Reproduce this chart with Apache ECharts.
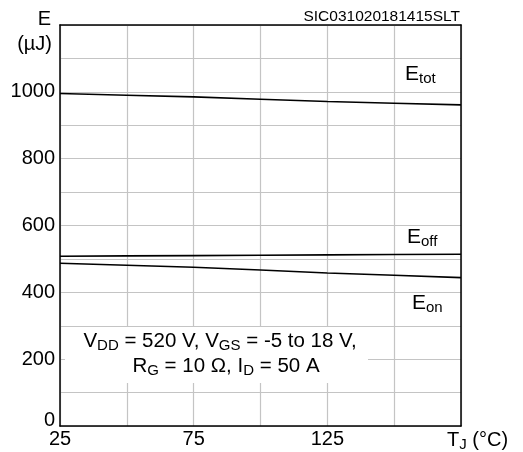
<!DOCTYPE html>
<html><head><meta charset="utf-8">
<script src="https://cdn.jsdelivr.net/npm/echarts@6/dist/echarts.min.js"></script>
<style>html,body{margin:0;padding:0;background:#fff}#c{width:523px;height:452px}</style>
</head><body><div id="c"></div>
<script>
const temps = [25, 50, 75, 100, 125, 150, 175];
const eTot = [995, 990, 985, 978, 971, 966, 961];
const eOff = [508, 509, 510, 511, 512, 513, 514];
const eOn  = [487, 481, 475, 467, 458, 451, 444];
const xTickLabels = [25, 75, 125];
const yTickLabels = [0, 200, 400, 600, 800, 1000];

const FONT = 'Liberation Sans, Arial, sans-serif';
const chart = echarts.init(document.getElementById('c'), null, {renderer: 'canvas'});
const pairs = arr => temps.map((t, i) => [t, arr[i]]);
const subRich = {
  s: {fontSize: 15, fontFamily: FONT, color: '#000', verticalAlign: 'bottom', padding: [9, 0, 0, 0]}
};
const lineSeries = arr => ({
  type: 'line', data: pairs(arr), showSymbol: false, smooth: false,
  xAxisIndex: 0, yAxisIndex: 0,
  lineStyle: {color: '#000', width: 1.6}, z: 5, silent: true
});
const frameAxis = {
  z: 8,
  axisLine: {show: true, onZero: false, lineStyle: {color: '#000', width: 1.5}},
  axisTick: {show: false}, axisLabel: {show: false}, splitLine: {show: false}
};
chart.setOption({
  animation: false,
  grid: {left: 60, right: 62, top: 25, bottom: 26, containLabel: false},
  xAxis: [{
    type: 'value', min: 25, max: 175, interval: 25,
    axisLine: {onZero: false, lineStyle: {color: '#000', width: 1.5}},
    axisTick: {show: false},
    axisLabel: {fontSize: 20, fontFamily: FONT, color: '#000', margin: 3,
      formatter: v => xTickLabels.includes(v) ? String(v) : ''},
    splitLine: {lineStyle: {color: '#c4c4c4', width: 1.2}}
  }, Object.assign({type: 'value', min: 25, max: 175, position: 'top'}, frameAxis)],
  yAxis: [{
    type: 'value', min: 0, max: 1200, interval: 100,
    axisLine: {onZero: false, lineStyle: {color: '#000', width: 1.5}},
    axisTick: {show: false},
    axisLabel: {fontSize: 20, fontFamily: FONT, color: '#000', margin: 5,
      formatter: v => v === 0 ? '{z|0}' : (yTickLabels.includes(v) ? String(v) : ''),
      rich: {z: {fontSize: 20, fontFamily: FONT, color: '#000', padding: [0, 0, 12, 0]}}},
    splitLine: {lineStyle: {color: '#c4c4c4', width: 1.2}}
  }, Object.assign({type: 'value', min: 0, max: 1200, position: 'right'}, frameAxis)],
  series: [lineSeries(eTot), lineSeries(eOff), lineSeries(eOn)],
  graphic: [
    {type: 'text', x: 51, y: 19, style: {text: 'E', font: '20px ' + FONT, fill: '#000', textAlign: 'right', textVerticalAlign: 'middle'}},
    {type: 'text', x: 52, y: 44, style: {text: '(µJ)', font: '20px ' + FONT, fill: '#000', textAlign: 'right', textVerticalAlign: 'middle'}},
    {type: 'text', x: 460, y: 17, style: {text: 'SIC031020181415SLT', font: '15.5px ' + FONT, fill: '#000', textAlign: 'right', textVerticalAlign: 'middle'}},
    {type: 'text', x: 447, y: 440, style: {text: 'T{s|J} (°C)', rich: subRich, font: '20px ' + FONT, fill: '#000', textAlign: 'left', textVerticalAlign: 'middle'}},
    {type: 'text', x: 405, y: 74, z: 10, style: {text: 'E{s|tot}', rich: subRich, font: '21px ' + FONT, fill: '#000', textAlign: 'left', textVerticalAlign: 'middle'}},
    {type: 'text', x: 407, y: 237, z: 10, style: {text: 'E{s|off}', rich: subRich, font: '21px ' + FONT, fill: '#000', textAlign: 'left', textVerticalAlign: 'middle'}},
    {type: 'text', x: 412, y: 303, z: 10, style: {text: 'E{s|on}', rich: subRich, font: '21px ' + FONT, fill: '#000', textAlign: 'left', textVerticalAlign: 'middle'}},
    {type: 'rect', shape: {x: 65, y: 327, width: 303, height: 56}, style: {fill: '#fff'}, z: 3},
    {type: 'text', x: 220, y: 341, z: 10, style: {text: 'V{s|DD} = 520 V, V{s|GS} = -5 to 18 V,', rich: subRich, font: '20.5px ' + FONT, fill: '#000', textAlign: 'center', textVerticalAlign: 'middle'}},
    {type: 'text', x: 226, y: 366, z: 10, style: {text: 'R{s|G} = 10 Ω, I{s|D} = 50 A', rich: subRich, font: '20.5px ' + FONT, fill: '#000', textAlign: 'center', textVerticalAlign: 'middle'}}
  ]
});
</script></body></html>
